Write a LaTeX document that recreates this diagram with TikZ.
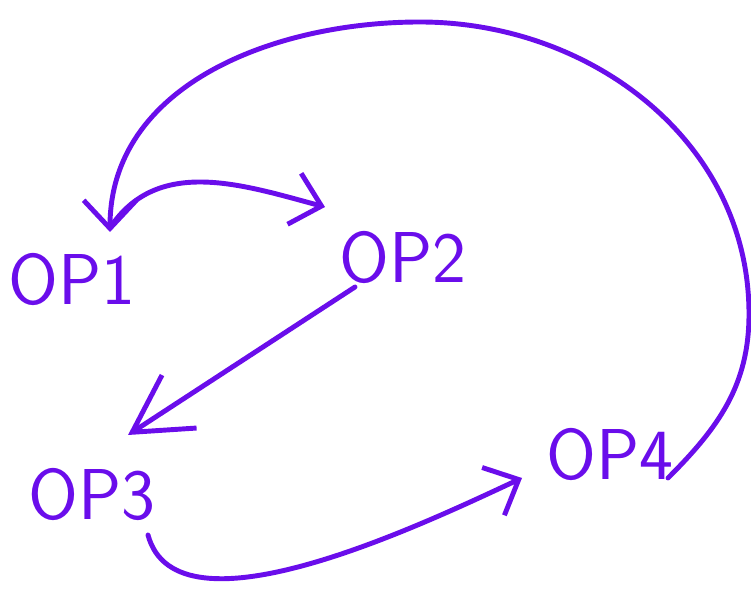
\documentclass[tikz,border=0pt]{standalone}
\usepackage{tikz}
\usetikzlibrary{arrows.meta}

\definecolor{ink}{HTML}{6A0DEB}

\begin{document}
\begin{tikzpicture}[x=0.02cm,y=0.02cm,ink,line width=2.8pt,line cap=round,line join=round,
	op/.style={inner sep=0pt,font=\sffamily\fontsize{41}{41}\selectfont},
	barb/.style={-{Straight Barb[length=16pt,width=30pt]}}]
	\useasboundingbox (0,0) rectangle (751,594);
	\node[op] (op1) at (72,314) {OP1};
	\node[op] (op2) at (403,336) {OP2};
	\node[op] (op3) at (92,99) {OP3};
	\node[op] (op4) at (610,139) {OP4};
	\coordinate (far) at (749,280);
	\coordinate (apex) at (420,572);
	\draw ([shift={(40,55)}]op1.center) edge[barb,out=55,in=165] ([shift={(-78,51)}]op2.center)
		([shift={(-48,-29)}]op2.center) edge[-{Straight Barb[length=32pt,width=36pt]}] ([shift={(36,60)}]op3.center)
		([shift={(56,-40)}]op3.center) edge[barb,out=-75,in=205,looseness=0.75] ([shift={(-88,-23)}]op4.center);
	% long way back round the top
	\draw[barb] ([shift={(58,-23)}]op4.center) to[out=45,in=-90] (far)
		to[out=90,in=0] (apex) to[out=180,in=90] ([shift={(38,48)}]op1.center);
\end{tikzpicture}
\end{document}
